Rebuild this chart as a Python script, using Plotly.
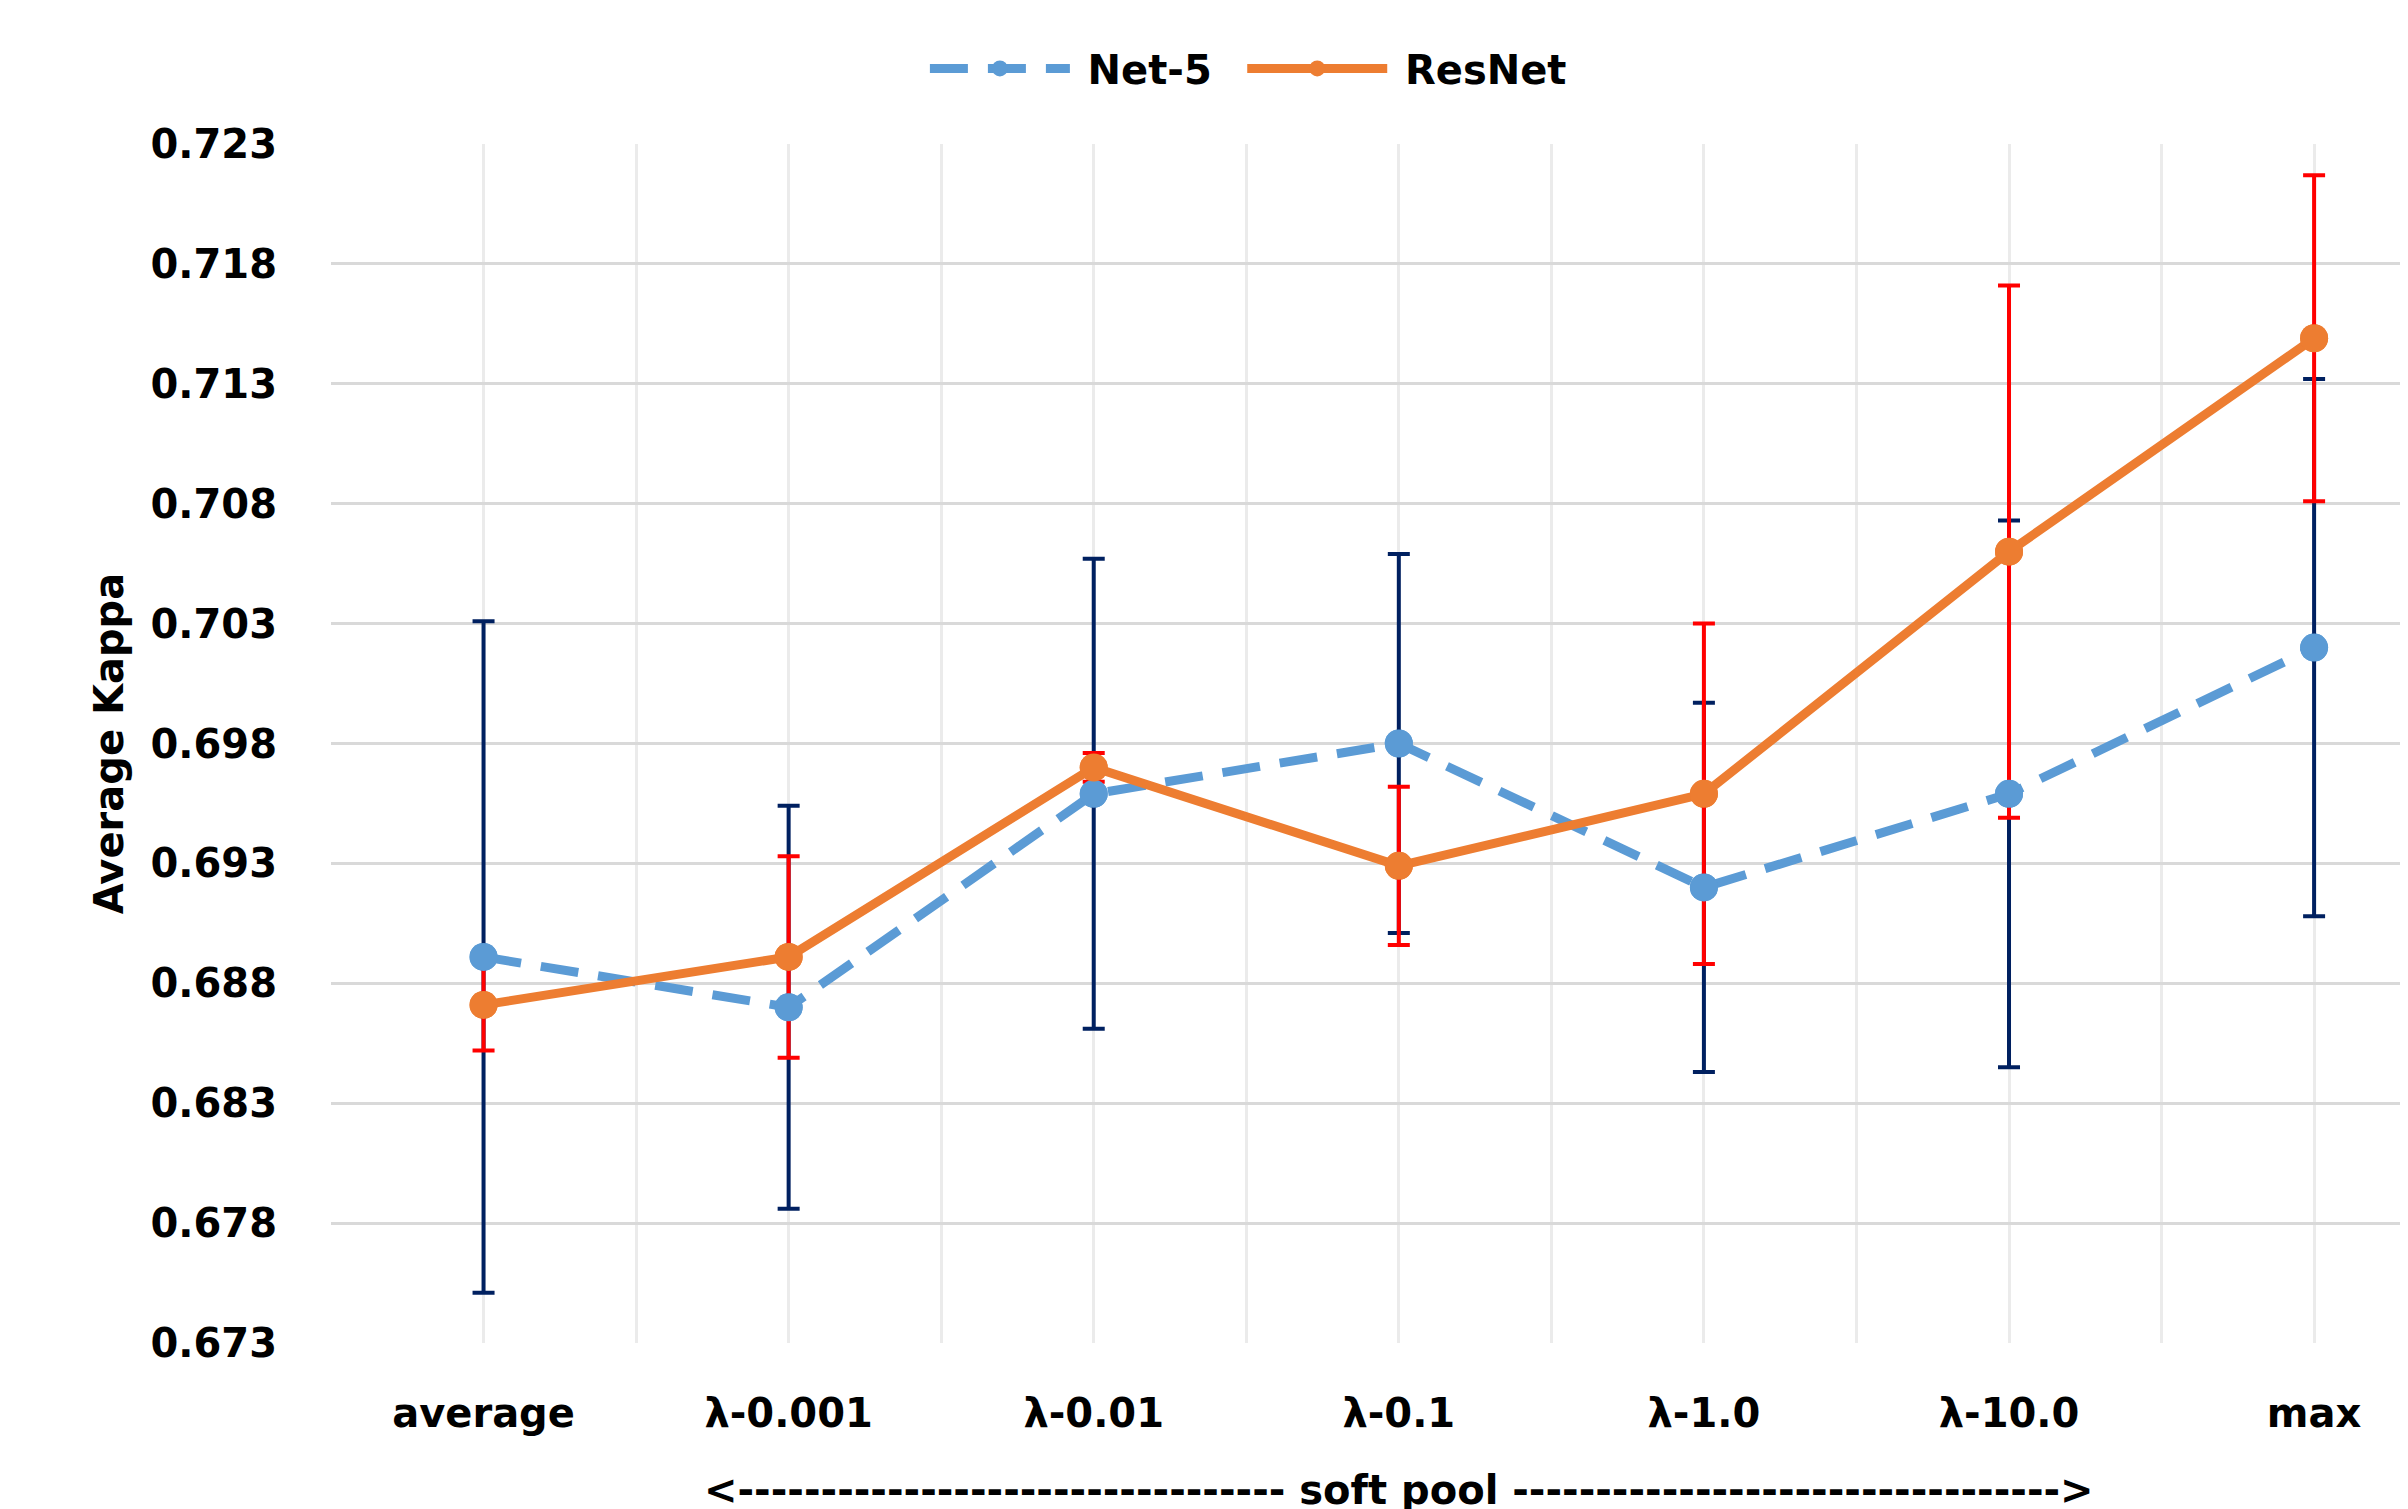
import plotly.graph_objects as go

categories = ["average", "λ-0.001", "λ-0.01", "λ-0.1", "λ-1.0", "λ-10.0", "max"]
net5 = [0.6891, 0.6870, 0.6959, 0.6980, 0.6920, 0.6959, 0.7020]
net5_err = [0.0140, 0.0084, 0.0098, 0.0079, 0.0077, 0.0114, 0.0112]
resnet = [0.6871, 0.6891, 0.6970, 0.6929, 0.6959, 0.7060, 0.7149]
resnet_err = [0.0019, 0.0042, 0.0006, 0.0033, 0.0071, 0.0111, 0.0068]
y_ticks = [0.673, 0.678, 0.683, 0.688, 0.693, 0.698, 0.703, 0.708, 0.713, 0.718, 0.723]

BLUE = "#5B9BD5"
ORANGE = "#ED7D31"
NAVY = "#002060"
RED = "#FF0000"
FONT = "DejaVu Sans"

xpos = list(range(len(categories)))

fig = go.Figure()
# lines (with legend)
fig.add_trace(go.Scatter(x=xpos, y=net5, name="&nbsp;<b>Net-5</b>&nbsp;&nbsp;", mode="lines+markers",
                         line=dict(color=BLUE, width=9, dash="38px,20px"),
                         marker=dict(size=28, color=BLUE)))
fig.add_trace(go.Scatter(x=xpos, y=resnet, name="&nbsp;<b>ResNet</b>", mode="lines+markers",
                         line=dict(color=ORANGE, width=9),
                         marker=dict(size=28, color=ORANGE)))
# error bars
fig.add_trace(go.Scatter(x=xpos, y=net5, mode="markers", showlegend=False,
                         marker=dict(size=1, color="rgba(0,0,0,0)"),
                         error_y=dict(type="data", array=net5_err, color=NAVY,
                                      thickness=4, width=11)))
fig.add_trace(go.Scatter(x=xpos, y=resnet, mode="markers", showlegend=False,
                         marker=dict(size=1, color="rgba(0,0,0,0)"),
                         error_y=dict(type="data", array=resnet_err, color=RED,
                                      thickness=4, width=11)))
# markers on top
fig.add_trace(go.Scatter(x=xpos, y=net5, mode="markers", showlegend=False,
                         marker=dict(size=28, color=BLUE)))
fig.add_trace(go.Scatter(x=xpos, y=resnet, mode="markers", showlegend=False,
                         marker=dict(size=28, color=ORANGE)))

half_ticks = [i - 0.5 for i in range(len(categories) + 1)]

fig.update_layout(
    width=2408, height=1509,
    margin=dict(l=323, r=0, t=136, b=174, autoexpand=False),
    paper_bgcolor="white", plot_bgcolor="white",
    font=dict(family=FONT, size=40, color="black"),
    showlegend=True,
    legend=dict(orientation="h", x=0.44, xanchor="center", y=1.063, yanchor="middle",
                font=dict(family=FONT, size=40, color="black"),
                itemwidth=140, traceorder="normal", bgcolor="rgba(0,0,0,0)"),
    xaxis=dict(range=[-0.5, 6.334], tickmode="array", tickvals=xpos, ticktext=categories,
               automargin=False,
               showgrid=True, gridcolor="#EBEBEB", gridwidth=3,
               minor=dict(tickmode="array", tickvals=half_ticks, showgrid=True,
                          gridcolor="#EBEBEB", gridwidth=3),
               zeroline=False, showline=False,
               ticks="outside", ticklen=35, tickcolor="rgba(0,0,0,0)",
               tickfont=dict(family=FONT, size=40, color="black", weight="bold")),
    yaxis=dict(range=[0.673, 0.723], tickmode="array", tickvals=y_ticks,
               ticktext=[f"{v:.3f}" for v in y_ticks],
               automargin=False,
               showgrid=True, gridcolor="#D9D9D9", gridwidth=3,
               zeroline=False, showline=False,
               ticks="outside", ticklen=45, tickcolor="rgba(0,0,0,0)",
               tickfont=dict(family=FONT, size=40, color="black", weight="bold"),
               title=dict(text="<b>Average Kappa</b>", font=dict(family=FONT, size=40, color="black"),
                          standoff=14)),
)

left = "<" + "-" * 33
right = "-" * 33 + ">"
fig.add_annotation(x=3, xref="x", y=-0.123, yref="paper", yanchor="middle",
                   text="<b>" + left + " soft pool " + right + "</b>",
                   showarrow=False, font=dict(family=FONT, size=40, color="black"))

fig.write_html("out.html")
